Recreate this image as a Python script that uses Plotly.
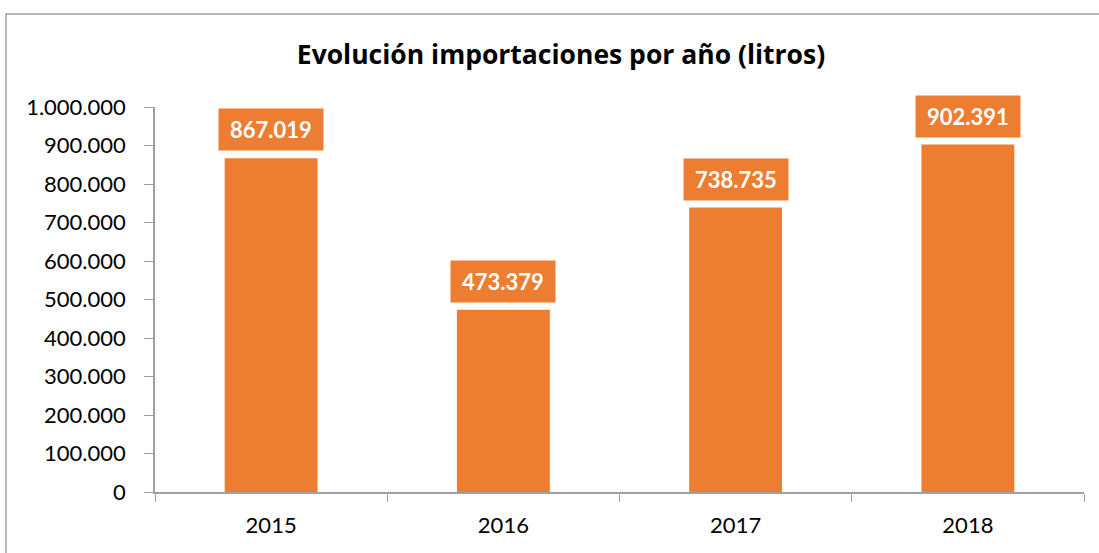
import plotly.graph_objects as go

years = ["2015", "2016", "2017", "2018"]
litros = [867019, 473379, 738735, 902391]
y_ticks = [0, 100000, 200000, 300000, 400000, 500000, 600000, 700000, 800000, 900000, 1000000]

ORANGE = "#ED7D31"
GRAY = "#A0A0A0"

def fmt(v):
    return f"{v:,}".replace(",", ".")

# plot area target (in page px): x 155..1084, y 107..492 (body margin removed below)
L, R, T, B = 155, 1084, 107, 492
W, H = 1099, 553
PW, PH = R - L, B - T

fig = go.Figure()
fig.add_trace(go.Bar(
    x=years, y=litros, width=0.4,
    marker=dict(color=ORANGE, line=dict(width=0)),
    hoverinfo="x+y",
))

for i, v in enumerate(litros):
    fig.add_annotation(
        x=i, y=v, xref="x", yref="y",
        text=f"<b>{fmt(v)}</b>", showarrow=False,
        yanchor="bottom", yshift=7,
        width=104, height=41, bgcolor=ORANGE,
        font=dict(family="Lato", size=22, color="white"),
        align="center", valign="middle", borderpad=0,
    )

# chart area border (extends beyond the visible image on right/bottom)
fig.add_shape(type="rect", xref="paper", yref="paper",
              x0=(6 - L) / PW, x1=(1120 - L) / PW,
              y0=(B - 570) / PH, y1=(B - 14) / PH,
              line=dict(color=GRAY, width=1.5), fillcolor="rgba(0,0,0,0)", layer="below")

fig.update_layout(
    width=W, height=H,
    margin=dict(l=L, r=W - R, t=T, b=H - B),
    paper_bgcolor="white", plot_bgcolor="white",
    separators=",.",
    showlegend=False,
    title=dict(text="<b>Evolución importaciones por año (litros)</b>",
               x=561 / W, xanchor="center", xref="container",
               y=1 - 55 / H, yanchor="middle", yref="container",
               font=dict(family="Open Sans", size=26.5, color="black")),
    font=dict(family="Lato", size=22, color="black"),
    bargap=0.6,
)
fig.update_xaxes(
    type="category", tickson="boundaries", ticks="outside", ticklen=8,
    tickcolor=GRAY, showline=True, linecolor=GRAY, linewidth=1.5,
    showgrid=False, tickfont=dict(family="Lato", size=22, color="black"),
    ticklabelstandoff=13, automargin=False, range=[-0.5, 3.5],
)
fig.update_yaxes(
    range=[0, 1000000], tickvals=y_ticks, ticktext=[fmt(t) for t in y_ticks],
    ticks="outside", ticklen=9, tickcolor=GRAY,
    showline=True, linecolor=GRAY, linewidth=1.5, showgrid=False, zeroline=False,
    tickfont=dict(family="Lato", size=22, color="black"),
    ticklabelstandoff=14, automargin=False,
)

fig.write_html("out.html",
               config={"displayModeBar": False},
               post_script="document.body.style.margin='0';document.body.style.overflow='hidden';")
